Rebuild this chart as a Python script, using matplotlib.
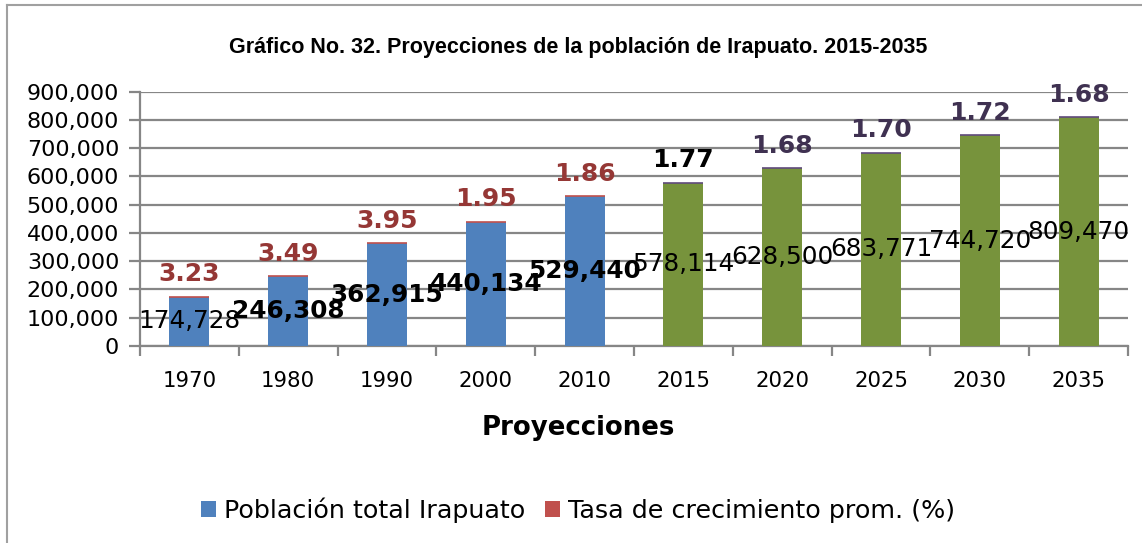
import matplotlib
matplotlib.use("Agg")
import matplotlib.pyplot as plt
from matplotlib.patches import Patch
from matplotlib.lines import Line2D
import numpy as np

years = ["1970", "1980", "1990", "2000", "2010", "2015", "2020", "2025", "2030", "2035"]
population = [174728, 246308, 362915, 440134, 529440, 578114, 628500, 683771, 744720, 809470]
growth_rate = [3.23, 3.49, 3.95, 1.95, 1.86, 1.77, 1.68, 1.70, 1.72, 1.68]

y_ticks = [0, 100000, 200000, 300000, 400000, 500000, 600000, 700000, 800000, 900000]

title = "Gráfico No. 32. Proyecciones de la población de Irapuato. 2015-2035"
x_title = "Proyecciones"
legend_labels = ["Población total Irapuato", "Tasa de crecimiento prom. (%)"]

BLUE = "#4F81BD"
GREEN = "#77933C"
RED = "#C0504D"
PURPLE = "#604A7B"
RATE_RED = "#953735"
RATE_PURPLE = "#3F3151"
GRID = "#868686"

n_hist = 5  # census years drawn in blue; projections in green
bar_colors = [BLUE] * n_hist + [GREEN] * (len(years) - n_hist)
cap_colors = [RED] * n_hist + [PURPLE] * (len(years) - n_hist)
rate_text_colors = [RATE_RED] * n_hist + ["black"] + [RATE_PURPLE] * (len(years) - n_hist - 1)
pop_weights = ["normal", "bold", "bold", "bold", "bold"] + ["normal"] * (len(years) - n_hist)

W, H = 1142, 543
fig = plt.figure(figsize=(W / 100, H / 100), dpi=100)
fig.patch.set_facecolor("white")

# outer frame (left and top edges visible)
fig.add_artist(Line2D([7 / W, 7 / W], [0, 1 - 5 / H], color="#A0A0A0", lw=1.5))
fig.add_artist(Line2D([7 / W, 1], [1 - 5 / H, 1 - 5 / H], color="#A0A0A0", lw=1.5))

ax = fig.add_axes([140 / W, (H - 346) / H, (1128 - 140) / W, (346 - 91.5) / H])

x = np.arange(len(years))
bw = 0.405
ax.bar(x, population, width=bw, color=bar_colors, zorder=3)
ax.bar(x, growth_rate, width=bw, bottom=population, color=cap_colors,
       edgecolor=cap_colors, linewidth=1.2, zorder=3)

ax.set_xlim(-0.5, len(years) - 0.5)
ax.set_ylim(0, 900000)
ax.set_yticks(y_ticks)
ax.set_yticklabels([f"{v:,}" for v in y_ticks])
ax.yaxis.grid(True, color=GRID, lw=1.6, zorder=0)
ax.set_axisbelow(True)

ax.set_xticks(x)
ax.set_xticklabels(years)
ax.set_xticks(np.arange(-0.5, len(years), 1), minor=True)
ax.tick_params(axis="x", which="major", length=0, pad=18, labelsize=15.3)
ax.tick_params(axis="x", which="minor", length=7.5, width=1.6, color=GRID, direction="out")
ax.tick_params(axis="y", length=8, width=1.6, color=GRID, labelsize=16, pad=7)

for s in ["top", "right"]:
    ax.spines[s].set_visible(False)
for s in ["left", "bottom"]:
    ax.spines[s].set_color(GRID)
    ax.spines[s].set_linewidth(1.6)

for xi, p, r, wgt, rc in zip(x, population, growth_rate, pop_weights, rate_text_colors):
    ax.text(xi, p / 2, f"{p:,}", ha="center", va="center", fontsize=17.8,
            fontweight=wgt, color="black", zorder=5)
    ax.annotate(f"{r:.2f}", (xi, p + r), xytext=(0, 11), textcoords="offset points",
                ha="center", va="baseline", fontsize=18, fontweight="bold",
                color=rc, zorder=5)

fig.text(578 / W, 1 - 47 / H, title, ha="center", va="center",
         fontsize=15.5, fontweight="bold", family="Liberation Sans")
fig.text(578 / W, 1 - 428 / H, x_title, ha="center", va="center",
         fontsize=18.7, fontweight="bold")

handles = [Patch(facecolor=BLUE), Patch(facecolor=RED)]
fig.legend(handles, legend_labels, loc="center", bbox_to_anchor=(578 / W, 1 - 510 / H),
           ncol=2, frameon=False, fontsize=18.3, handlelength=0.6, handleheight=0.6,
           handletextpad=0.3, columnspacing=0.8)

fig.savefig("out.png", dpi=100, facecolor="white")
